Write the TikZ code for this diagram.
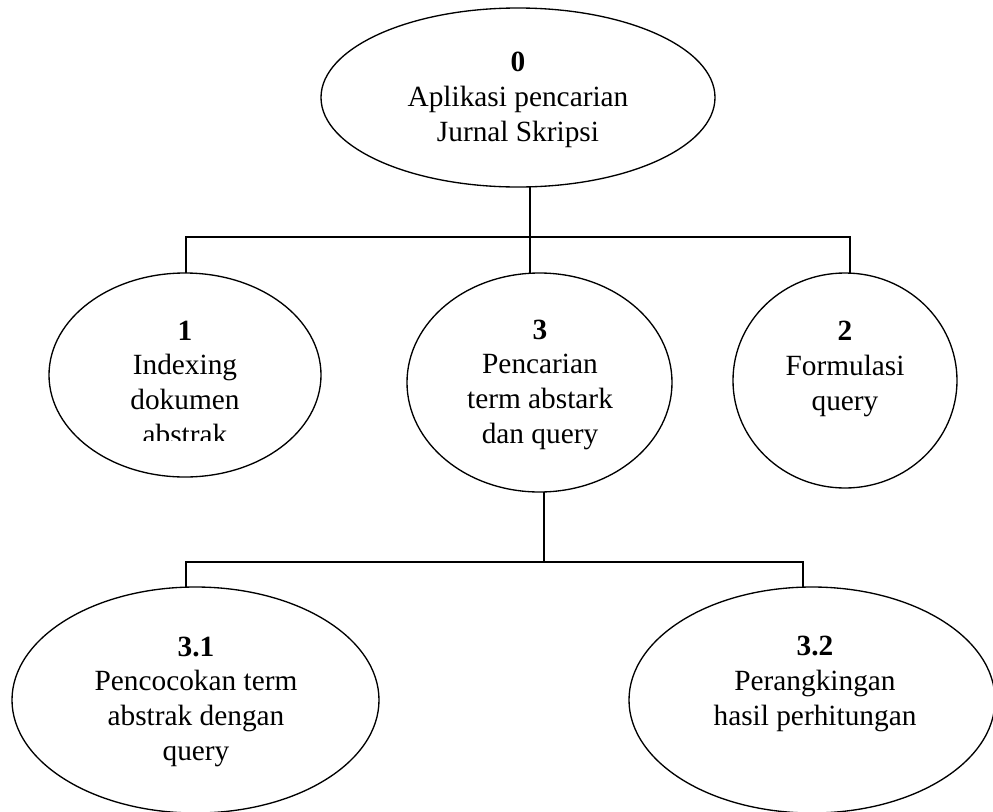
\documentclass[tikz,border=0pt]{standalone}
\usepackage{fontspec}
\setmainfont{Liberation Serif}
\usetikzlibrary{shapes.geometric}
\begin{document}
\begin{tikzpicture}[x={(0.75pt,0pt)},y={(0pt,-0.75pt)},
  proc/.style={draw,ellipse,line width=1pt,inner sep=0pt,outer sep=0pt},
  lbl/.style={align=center,font=\fontsize{22}{26}\selectfont,inner sep=0pt,anchor=base},
  conn/.style={line width=1.3pt}]
\fill[white] (0,0) rectangle (993,811);
\useasboundingbox (0,0) rectangle (993,811);
% ellipses
\node[proc,minimum width=295.5pt,minimum height=134.25pt] (e0) at (518,97.5) {};
\node[proc,minimum width=204pt,minimum height=153pt] (e1) at (185,375) {};
\node[proc,minimum width=198.75pt,minimum height=164.25pt] (e3) at (539.5,382.5) {};
\node[proc,minimum width=168pt,minimum height=161.25pt] (e2) at (845,380.5) {};
\node[proc,minimum width=275.25pt,minimum height=169.5pt] (e31) at (195.5,700) {};
\node[proc,minimum width=274.5pt,minimum height=169.5pt] (e32) at (812,700) {};
% labels (anchored at the baseline of the last line)
\node[lbl] (t0) at (518,141) {\textbf{0}\\Aplikasi pencarian\\Jurnal Skripsi};
\begin{scope}
\clip (90,300) rectangle (280,440.5);
\node[lbl] (t1) at (185,444) {\textbf{1}\\Indexing\\dokumen\\abstrak};
\end{scope}
\node[lbl] (t3) at (540,443) {\textbf{3}\\Pencarian\\term abstark\\dan query};
\node[lbl] (t2) at (845,410) {\textbf{2}\\Formulasi\\query};
\node[lbl] (t31) at (196,760) {\textbf{3.1}\\Pencocokan term\\abstrak dengan\\query};
\node[lbl] (t32) at (815,725) {\textbf{3.2}\\Perangkingan\\hasil perhitungan};
% connectors
\coordinate (b1) at (530,237);
\coordinate (b1l) at (186,237);
\coordinate (b1r) at (850,237);
\coordinate (b2) at (544,562);
\coordinate (b2l) at (186,562);
\coordinate (b2r) at (803,562);
\draw[conn] (e0.south -| b1) -- (b1);
\draw[conn] (e1.north -| b1l) -- (b1l) -- (b1r) -- (e2.north -| b1r);
\draw[conn] (b1) -- (e3.north -| b1);
\draw[conn] (e3.south -| b2) -- (b2);
\draw[conn] (e31.north -| b2l) -- (b2l) -- (b2r) -- (e32.north -| b2r);
\end{tikzpicture}
\end{document}
